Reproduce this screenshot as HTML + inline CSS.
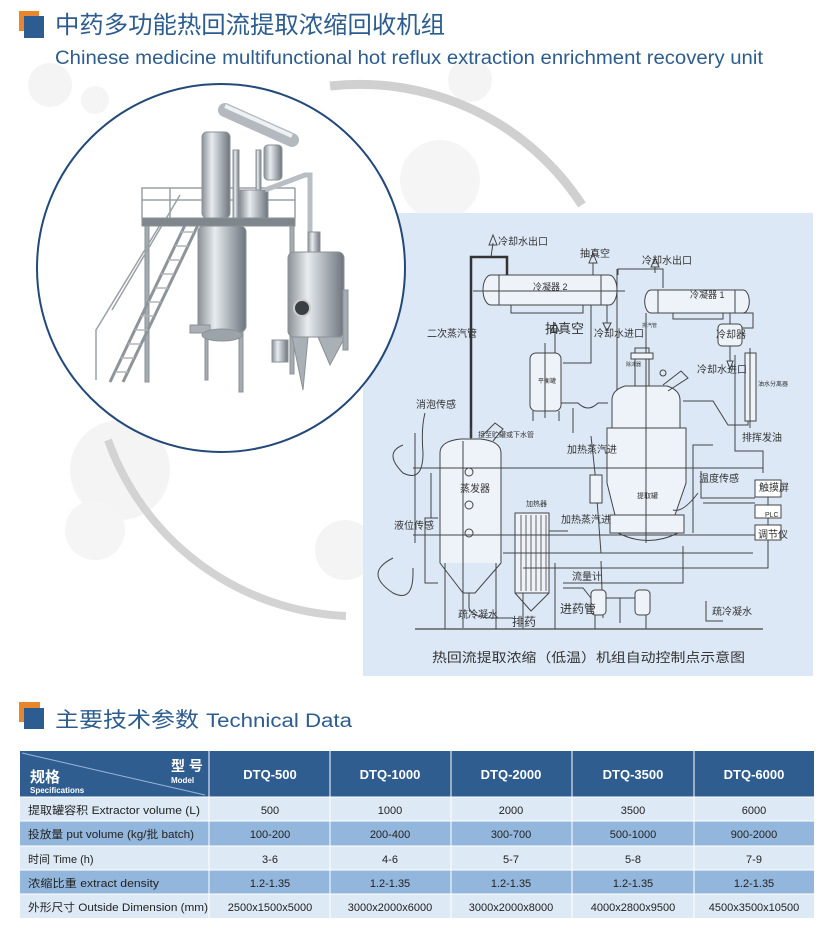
<!DOCTYPE html>
<html><head><meta charset="utf-8"><style>
html,body{margin:0;padding:0;background:#fff;width:831px;height:929px;overflow:hidden}
svg{display:block}
.cj{font-family:"Liberation Sans","Noto Sans CJK SC",sans-serif}
</style></head><body>
<svg width="831" height="929" viewBox="0 0 831 929" xmlns="http://www.w3.org/2000/svg" class="cj">
<defs>
<linearGradient id="met" x1="0" x2="1" y1="0" y2="0">
<stop offset="0" stop-color="#8a9096"/><stop offset=".35" stop-color="#e8ecef"/><stop offset=".6" stop-color="#b7bdc3"/><stop offset="1" stop-color="#6d747b"/>
</linearGradient>
</defs>
<!-- decorative -->
<circle cx="50" cy="85" r="22" fill="#f4f4f4"/>
<circle cx="95" cy="100" r="14" fill="#f5f5f5"/>
<circle cx="470" cy="80" r="22" fill="#f4f4f4"/>
<circle cx="440" cy="180" r="40" fill="#f5f5f5"/>
<circle cx="120" cy="470" r="50" fill="#f4f4f4"/>
<circle cx="95" cy="530" r="30" fill="#f5f5f5"/>
<circle cx="345" cy="550" r="30" fill="#f4f4f4"/>
<path d="M330 86 A265 265 0 0 1 582 205" fill="none" stroke="#d0d0d0" stroke-width="9"/>
<path d="M108 440 A265 265 0 0 0 346 616" fill="none" stroke="#d3d3d3" stroke-width="8"/>

<!-- title -->
<rect x="19" y="11" width="20" height="20" fill="#e8862e"/>
<rect x="24" y="16" width="20" height="22" fill="#2d5c91"/>
<text x="55" y="33" font-size="24" fill="#2d5c8f" textLength="390" lengthAdjust="spacingAndGlyphs">中药多功能热回流提取浓缩回收机组</text>
<text x="55" y="64" font-size="19" fill="#2d5c8f" textLength="708" lengthAdjust="spacingAndGlyphs">Chinese medicine multifunctional hot reflux extraction enrichment recovery unit</text>

<!-- diagram panel -->
<rect x="363" y="213" width="450" height="463" fill="#dce8f6"/>
<g transform="translate(363,213)" fill="none" stroke="#444" stroke-width="1">
<line x1="52" y1="416" x2="400" y2="416" stroke-width="1.3"/>
<path d="M128 62 L246 62 A8 15 0 0 1 246 92 L128 92 A8 15 0 0 1 128 62 Z" fill="#eef3f9"/>
<line x1="136" y1="62" x2="136" y2="92"/><line x1="238" y1="62" x2="238" y2="92"/>
<line x1="110" y1="78" x2="262" y2="78"/>
<path d="M148 92 L148 100 L220 100 L220 92"/>
<path d="M288 77 L380 77 A6 11 0 0 1 380 100 L288 100 A6 11 0 0 1 288 77 Z" fill="#eef3f9"/>
<line x1="295" y1="77" x2="295" y2="100"/><line x1="372" y1="77" x2="372" y2="100"/>
<path d="M310 100 L310 106 L360 106 L360 100"/>
<path d="M108 225 L108 44 L144 44 L144 62" stroke-width="2.5" stroke="#333"/>
<path d="M130 30 L128 44 M130 22 L126 32 L134 32 Z"/>
<path d="M230 62 L230 50 M230 40 L226 50 L234 50 Z"/>
<path d="M255 62 L255 56 L288 56 L300 56 L300 75"/>
<path d="M254 56 L254 220 L258 220" />
<path d="M292 60 L292 54 M292 45 L288 54 L296 54 Z"/>
<path d="M244 92 L244 110 M244 118 L240 110 L248 110 Z"/>
<path d="M228 92 L228 150 L200 150"/>
<rect x="167" y="140" width="31" height="58" rx="6" fill="#eef3f9"/>
<line x1="182" y1="130" x2="182" y2="205"/>
<path d="M192 140 L192 118 M192 110 L188 118 L196 118 Z"/>
<line x1="170" y1="198" x2="170" y2="208"/><line x1="196" y1="198" x2="196" y2="208"/>
<path d="M198 190 L215 190 Q225 200 235 190 L245 190"/>
<line x1="210" y1="195" x2="210" y2="220"/>
<rect x="355" y="111" width="24" height="22" rx="4" fill="#eef3f9"/>
<path d="M367 100 L367 111 M367 133 L367 148 M367 156 L364 148 L370 148 Z"/>
<path d="M380 100 L390 100 L390 115 L379 115"/>
<rect x="382" y="140" width="11" height="68" fill="#eef3f9"/>
<line x1="387" y1="135" x2="387" y2="215"/>
<path d="M320 188 L350 188 L365 212 L385 212 L385 208 M372 142 L372 238 L400 238 L400 260"/>
<path d="M249 215 L249 187 Q249 177 262 173 L304 173 Q317 177 317 187 L317 215" fill="#eef3f9"/>
<path d="M244 215 L323 215 L323 270 L312 302 L252 302 L244 270 Z" fill="#eef3f9"/>
<rect x="247" y="302" width="74" height="18" fill="#eef3f9"/>
<path d="M255 320 Q285 335 315 320"/>
<line x1="283" y1="100" x2="283" y2="330"/>
<rect x="272" y="135" width="14" height="38"/>
<rect x="268" y="140" width="22" height="6" fill="#eef3f9"/>
<path d="M300 172 L318 158 L325 165 L305 178"/>
<circle cx="300" cy="160" r="3"/>
<path d="M228 223 L232 260 L238 340 M238 348 L240 405"/>
<rect x="227" y="262" width="12" height="28" fill="#eef3f9"/>
<path d="M77 350 L77 240 Q77 228 98 226 L117 226 Q138 228 138 240 L138 350" fill="#eef3f9"/>
<path d="M77 350 L100 380 L112 380 L138 350"/>
<line x1="108" y1="215" x2="108" y2="226"/>
<path d="M120 222 L132 210 L140 216 L130 228"/>
<circle cx="106" cy="259" r="4"/><circle cx="106" cy="292" r="4"/><circle cx="106" cy="320" r="4"/>
<line x1="100" y1="228" x2="100" y2="415"/>
<line x1="82" y1="350" x2="82" y2="416"/><line x1="133" y1="350" x2="133" y2="416"/>
<path d="M106 380 L106 395 Q110 405 130 405 L150 405"/>
<path d="M68 260 L68 305 M75 305 L62 305 L62 370 L75 370"/>
<rect x="152" y="300" width="34" height="80" fill="#eef3f9"/>
<g stroke="#666"><line x1="158" y1="302" x2="158" y2="378"/><line x1="163" y1="302" x2="163" y2="378"/><line x1="168" y1="302" x2="168" y2="378"/><line x1="173" y1="302" x2="173" y2="378"/><line x1="178" y1="302" x2="178" y2="378"/><line x1="183" y1="302" x2="183" y2="378"/></g>
<path d="M152 380 L168 398 L186 380"/>
<line x1="160" y1="380" x2="160" y2="416"/><line x1="192" y1="350" x2="192" y2="416"/>
<path d="M186 318 L205 318"/>
<rect x="228" y="377" width="15" height="25" rx="4" fill="#eef3f9"/>
<rect x="272" y="377" width="15" height="25" rx="4" fill="#eef3f9"/>
<line x1="232" y1="402" x2="232" y2="416"/><line x1="283" y1="402" x2="283" y2="416"/>
<path d="M243 385 L272 385 M257 385 L257 410"/>
<path d="M200 375 L220 375 L228 385"/>
<path d="M50 255 L400 255 M50 322 L400 322 M52 220 L52 330 M140 340 L390 340 M160 355 L385 355 M338 258 L338 285 L392 285 M330 320 L330 232 L350 232 M340 290 L392 290 M405 283 L405 292 M405 305 L405 312 M405 327 L405 355 L300 355 M320 333 L320 370 L200 370"/>
<path d="M40 232 Q20 240 40 260 Q60 270 60 240 Q58 215 62 200 M30 345 Q0 360 30 380 Q50 390 50 360 L50 355"/>
<path d="M335 280 Q320 300 310 297 M343 388 L343 408 L360 408"/>
<rect x="392" y="267" width="26" height="17" fill="#fff"/>
<rect x="392" y="292" width="26" height="13" fill="#fff"/>
<rect x="392" y="312" width="26" height="15" fill="#fff"/>
</g>
<g font-size="10" fill="#333" class="cj">
<text x="498" y="245">冷却水出口</text>
<text x="580" y="257">抽真空</text>
<text x="642" y="264">冷却水出口</text>
<text x="533" y="290" font-size="9">冷凝器 2</text>
<text x="690" y="298" font-size="9">冷凝器 1</text>
<text x="427" y="337">二次蒸汽管</text>
<text x="545" y="333" font-size="13">抽真空</text>
<text x="594" y="337">冷却水进口</text>
<text x="642" y="327" font-size="5">排汽管</text>
<text x="716" y="338">冷却器</text>
<text x="697" y="373">冷却水进口</text>
<text x="758" y="386" font-size="6">油水分离器</text>
<text x="538" y="383" font-size="6">平衡罐</text>
<text x="626" y="366" font-size="5">除沫器</text>
<text x="478" y="437" font-size="7">接至贮罐或下水管</text>
<text x="567" y="453">加热蒸汽进</text>
<text x="742" y="441">排挥发油</text>
<text x="416" y="408">消泡传感</text>
<text x="460" y="492">蒸发器</text>
<text x="526" y="506" font-size="7">加热器</text>
<text x="561" y="523">加热蒸汽进</text>
<text x="637" y="498" font-size="7">提取罐</text>
<text x="699" y="482">温度传感</text>
<text x="759" y="491">触摸屏</text>
<text x="765" y="517" font-size="7">PLC</text>
<text x="758" y="538">调节仪</text>
<text x="394" y="529">液位传感</text>
<text x="572" y="580">流量计</text>
<text x="560" y="613" font-size="12">进药管</text>
<text x="458" y="618">疏冷凝水</text>
<text x="512" y="626" font-size="12">排药</text>
<text x="712" y="615">疏冷凝水</text>
<text x="432" y="662" font-size="13" textLength="313" lengthAdjust="spacingAndGlyphs">热回流提取浓缩（低温）机组自动控制点示意图</text>
</g>

<!-- photo circle (on top of panel) -->
<circle cx="221" cy="268" r="184" fill="#fff" stroke="#22497a" stroke-width="2"/>
<g stroke="#8a9197" stroke-width="1">
<rect x="145" y="224" width="4" height="158" fill="#a4abb1"/>
<rect x="239" y="224" width="4" height="168" fill="#a4abb1"/>
<rect x="290" y="224" width="4" height="150" fill="#a4abb1"/>
<rect x="205" y="330" width="3" height="50" fill="#a4abb1"/>
<path d="M185 225 L110 382 M198 225 L123 382" stroke="#8d949a" stroke-width="3" fill="none"/>
<path d="M112 310 L180 195 M96 380 L96 330 L160 225" stroke="#9aa1a7" stroke-width="1.5" fill="none"/>
<g stroke="#b0b6bb" stroke-width="1.5">
<line x1="115" y1="372" x2="128" y2="372"/><line x1="121" y1="358" x2="134" y2="358"/><line x1="128" y1="344" x2="141" y2="344"/><line x1="135" y1="330" x2="148" y2="330"/><line x1="141" y1="316" x2="154" y2="316"/><line x1="148" y1="302" x2="161" y2="302"/><line x1="155" y1="288" x2="168" y2="288"/><line x1="161" y1="274" x2="174" y2="274"/><line x1="168" y1="260" x2="181" y2="260"/><line x1="175" y1="246" x2="188" y2="246"/><line x1="181" y1="232" x2="194" y2="232"/>
</g>
<path d="M142 218 L295 218 L295 226 L142 226 Z" fill="#7f868c"/>
<path d="M142 218 L142 188 L295 188 M142 200 L295 200 M295 188 L295 218 M170 188 L170 218 M260 188 L260 218" fill="none" stroke="#9aa0a6" stroke-width="1.5"/>
<rect x="198" y="226" width="48" height="106" rx="6" fill="url(#met)"/>
<rect x="190" y="325" width="20" height="8" fill="#aab0b6"/>
<ellipse cx="222" cy="335" rx="20" ry="6" fill="#9ca3a9"/>
<rect x="202" y="132" width="28" height="86" rx="5" fill="url(#met)"/>
<rect x="233" y="150" width="6" height="68" fill="url(#met)"/>
<rect x="256" y="150" width="5" height="68" fill="url(#met)"/>
<rect x="264" y="145" width="18" height="35" rx="4" fill="url(#met)"/>
<path d="M225 110 L292 140" stroke="#b3b9be" stroke-width="14" stroke-linecap="round"/>
<path d="M225 106 L292 136" stroke="#eef1f3" stroke-width="4"/>
<rect x="240" y="190" width="28" height="28" fill="url(#met)"/>
<path d="M265 190 L305 175 L310 175 L310 250" stroke="#b8bec3" stroke-width="5" fill="none"/>
<rect x="288" y="252" width="56" height="85" rx="6" fill="url(#met)"/>
<rect x="308" y="232" width="12" height="20" fill="url(#met)"/>
<circle cx="302" cy="308" r="8" fill="#3a3f44" stroke="#ccc" stroke-width="2"/>
<path d="M292 337 L303 390 L308 337 Z M318 337 L345 337 L330 365 Z" fill="#a9b0b6"/>
<rect x="343" y="290" width="5" height="60" fill="#a4abb1"/>
<rect x="272" y="340" width="16" height="22" fill="url(#met)"/>
</g>

<!-- section 2 -->
<rect x="19" y="702" width="21" height="20" fill="#e8862e"/>
<rect x="24" y="708" width="20" height="21" fill="#2d5c91"/>
<text x="55" y="727" font-size="21" fill="#2d5c8f" textLength="144" lengthAdjust="spacingAndGlyphs">主要技术参数</text>
<text x="206" y="727" font-size="19" fill="#2d5c8f" textLength="146" lengthAdjust="spacingAndGlyphs">Technical Data</text>

<!-- table -->
<rect x="20" y="751" width="794" height="46" fill="#2f5d90"/>
<line x1="22" y1="753" x2="205" y2="795" stroke="#9bb6d6" stroke-width="1"/>
<rect x="20" y="797" width="794" height="24" fill="#dde9f5"/>
<rect x="20" y="821" width="794" height="25" fill="#93b7dc"/>
<rect x="20" y="846" width="794" height="24" fill="#dde9f5"/>
<rect x="20" y="870" width="794" height="24" fill="#93b7dc"/>
<rect x="20" y="894" width="794" height="24" fill="#dde9f5"/>
<g stroke="#fff" stroke-width="1">
<line x1="209" y1="751" x2="209" y2="918"/><line x1="330" y1="751" x2="330" y2="918"/><line x1="451" y1="751" x2="451" y2="918"/><line x1="572" y1="751" x2="572" y2="918"/><line x1="694" y1="751" x2="694" y2="918"/>
<line x1="20" y1="797" x2="814" y2="797"/><line x1="20" y1="821" x2="814" y2="821"/><line x1="20" y1="846" x2="814" y2="846"/><line x1="20" y1="870" x2="814" y2="870"/><line x1="20" y1="894" x2="814" y2="894"/>
</g>
<g fill="#fff" font-weight="bold">
<text x="30" y="782" font-size="15">规格</text>
<text x="30" y="793" font-size="8">Specifications</text>
<text x="171" y="771" font-size="14">型 号</text>
<text x="171" y="783" font-size="8">Model</text>
<g font-size="13" text-anchor="middle">
<text x="270" y="779">DTQ-500</text><text x="390" y="779">DTQ-1000</text><text x="511" y="779">DTQ-2000</text><text x="633" y="779">DTQ-3500</text><text x="754" y="779">DTQ-6000</text>
</g></g>
<g font-size="11" fill="#222">
<text x="28" y="814" textLength="172" lengthAdjust="spacingAndGlyphs">提取罐容积 Extractor volume (L)</text>
<text x="28" y="838" textLength="166" lengthAdjust="spacingAndGlyphs">投放量 put volume (kg/批 batch)</text>
<text x="28" y="863">时间 Time (h)</text>
<text x="28" y="887" textLength="131" lengthAdjust="spacingAndGlyphs">浓缩比重 extract density</text>
<text x="28" y="911" textLength="180" lengthAdjust="spacingAndGlyphs">外形尺寸 Outside Dimension (mm)</text>
</g>
<g font-size="11" fill="#222" text-anchor="middle">
<text x="270" y="814">500</text><text x="390" y="814">1000</text><text x="511" y="814">2000</text><text x="633" y="814">3500</text><text x="754" y="814">6000</text>
<text x="270" y="838">100-200</text><text x="390" y="838">200-400</text><text x="511" y="838">300-700</text><text x="633" y="838">500-1000</text><text x="754" y="838">900-2000</text>
<text x="270" y="863">3-6</text><text x="390" y="863">4-6</text><text x="511" y="863">5-7</text><text x="633" y="863">5-8</text><text x="754" y="863">7-9</text>
<text x="270" y="887">1.2-1.35</text><text x="390" y="887">1.2-1.35</text><text x="511" y="887">1.2-1.35</text><text x="633" y="887">1.2-1.35</text><text x="754" y="887">1.2-1.35</text>
<text x="270" y="911">2500x1500x5000</text><text x="390" y="911">3000x2000x6000</text><text x="511" y="911">3000x2000x8000</text><text x="633" y="911">4000x2800x9500</text><text x="754" y="911">4500x3500x10500</text>
</g>
</svg>
</body></html>
